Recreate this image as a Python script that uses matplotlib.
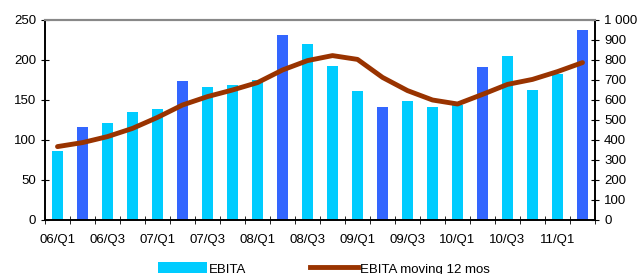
import matplotlib.pyplot as plt
import numpy as np
from matplotlib.patches import Patch
from matplotlib.lines import Line2D

plt.rcParams['font.family'] = ['Liberation Sans', 'DejaVu Sans']

quarters = ['06/Q1', '06/Q2', '06/Q3', '06/Q4', '07/Q1', '07/Q2', '07/Q3', '07/Q4',
            '08/Q1', '08/Q2', '08/Q3', '08/Q4', '09/Q1', '09/Q2', '09/Q3', '09/Q4',
            '10/Q1', '10/Q2', '10/Q3', '10/Q4', '11/Q1', '11/Q2']
ebita = [86, 116, 121, 135, 139, 174, 166, 169, 175, 231, 220, 193,
         161, 141, 149, 141, 144, 191, 205, 163, 183, 238]
ebita_12m = [367, 387, 417, 458, 513, 575, 617, 650, 687, 750, 797, 822,
             803, 713, 647, 600, 580, 628, 678, 703, 742, 787]

cyan = '#00CCFF'
blue = '#3366FF'
brown = '#993300'
fs = 9.5

x = np.arange(len(quarters))
colors = [blue if q.endswith('Q2') else cyan for q in quarters]

fig = plt.figure(figsize=(6.4, 2.74), dpi=100)
ax = fig.add_axes([45 / 640, 1 - 220 / 274, 550 / 640, 200 / 274])
ax.bar(x, ebita, width=0.44, color=colors, zorder=2)
ax.set_xlim(-0.5, len(quarters) - 0.5)
ax.set_ylim(0, 250)
ax.set_yticks(range(0, 251, 50))

ax.set_xticks(x[::2])
ax.set_xticklabels(quarters[::2], fontsize=fs)
ax.set_xticks(np.arange(-0.5, len(quarters)), minor=True)
ax.tick_params(axis='x', which='major', length=0, pad=10)
ax.tick_params(axis='x', which='minor', length=6, direction='inout')
ax.tick_params(axis='y', labelsize=fs, length=6, direction='inout')

ax2 = ax.twinx()
ax2.plot(x, ebita_12m, color=brown, lw=3.5, solid_capstyle='round', zorder=3)
ax2.set_ylim(0, 1000)
ax2.set_yticks(range(0, 1001, 100))
ax2.set_yticklabels([f'{v:,}'.replace(',', ' ') for v in range(0, 1001, 100)])
ax2.tick_params(axis='y', labelsize=fs, length=6, direction='inout')

for a in (ax, ax2):
    a.spines['top'].set_color('#888888')
    a.spines['top'].set_linewidth(1.5)
    for s in ('left', 'right', 'bottom'):
        a.spines[s].set_linewidth(1.2)

handles = [Patch(facecolor=cyan, edgecolor='none', label='EBITA'),
           Line2D([0], [0], color=brown, lw=3.5, label='EBITA moving 12 mos')]
fig.legend(handles=handles, loc='center left', bbox_to_anchor=(158 / 640, 1 - 269 / 274),
           ncol=2, frameon=False, fontsize=fs, handlelength=3.7, handleheight=0.9,
           columnspacing=4.8, handletextpad=0.15, borderpad=0, borderaxespad=0)

fig.savefig('out.png', dpi=100)
